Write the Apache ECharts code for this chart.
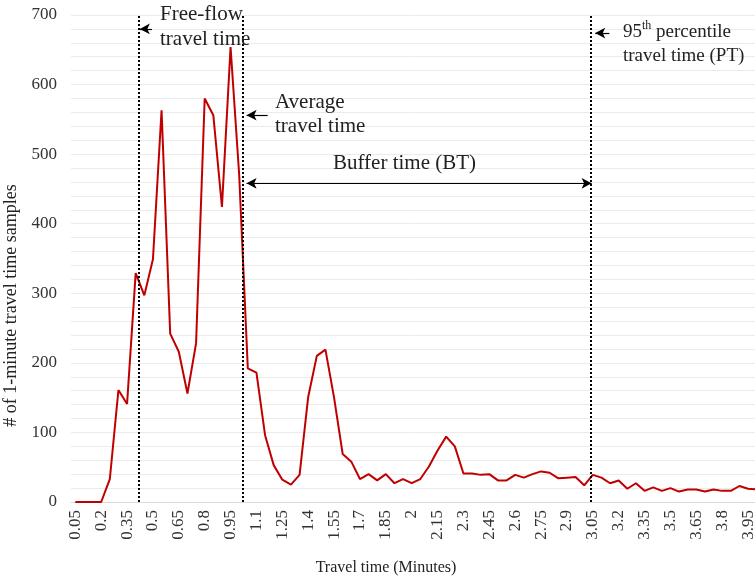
<!DOCTYPE html>
<html>
<head>
<meta charset="utf-8">
<script src="https://cdn.jsdelivr.net/npm/echarts@6/dist/echarts.min.js"></script>
<style>
  html, body { margin: 0; padding: 0; background: #ffffff; }
  #chart { width: 755px; height: 578px; }
</style>
</head>
<body>
<div id="chart"></div>
<script>
// travel time categories (minutes)
var categories = ['0.05','0.1','0.15','0.2','0.25','0.3','0.35','0.4','0.45','0.5',
  '0.55','0.6','0.65','0.7','0.75','0.8','0.85','0.9','0.95','1',
  '1.05','1.1','1.15','1.2','1.25','1.3','1.35','1.4','1.45','1.5',
  '1.55','1.6','1.65','1.7','1.75','1.8','1.85','1.9','1.95','2',
  '2.05','2.1','2.15','2.2','2.25','2.3','2.35','2.4','2.45','2.5',
  '2.55','2.6','2.65','2.7','2.75','2.8','2.85','2.9','2.95','3',
  '3.05','3.1','3.15','3.2','3.25','3.3','3.35','3.4','3.45','3.5',
  '3.55','3.6','3.65','3.7','3.75','3.8','3.85','3.9','3.95','4'];

// # of 1-minute samples per category
var samples = [0, 0, 0, 0, 33, 161, 141, 329, 297, 349,
  563, 242, 216, 156, 228, 580, 556, 424, 654, 470,
  192, 186, 96, 53, 32, 25, 39, 151, 210, 219,
  150, 69, 58, 33, 40, 31, 40, 27, 33, 27,
  33, 51, 74, 94, 80, 41, 41, 39, 40, 31,
  31, 39, 35, 40, 44, 42, 34, 35, 36, 24,
  39, 35, 27, 31, 19, 27, 16, 21, 16, 20,
  15, 18, 18, 15, 18, 16, 16, 23, 19, 18];

var yTicks = [0, 100, 200, 300, 400, 500, 600, 700];

// reference lines (minutes): free-flow, average, 95th percentile
var freeFlow = 0.418;
var average = 1.02;
var pct95 = 3.037;

var serif = 'Liberation Serif';
var myChart = echarts.init(document.getElementById('chart'));

var arrowLine = { color: '#000', width: 1.2, type: 'solid' };

myChart.setOption({
    animation: false,
    grid: { left: 71, top: 15, bottom: 76, width: 690, containLabel: false, outerBoundsMode: 'none' },
    xAxis: [{
        type: 'category',
        data: categories,
        boundaryGap: true,
        axisLine: { lineStyle: { color: '#d9d9d9', width: 1 } },
        axisTick: { show: false },
        axisLabel: {
            interval: 2,
            rotate: 90,
            fontFamily: serif,
            fontSize: 17,
            color: '#333',
            margin: 8
        },
        name: 'Travel time (Minutes)',
        nameLocation: 'middle',
        nameGap: 58,
        nameTextStyle: { fontFamily: serif, fontSize: 16, color: '#222', padding: [0, 60, 0, 0] }
    }, {
        // hidden value axis aligned with the categories, for annotations
        type: 'value',
        show: false,
        position: 'top',
        min: 0.025,
        max: 4.025
    }],
    yAxis: {
        type: 'value',
        min: 0,
        max: 700,
        interval: 20,
        axisLine: { show: false },
        axisTick: { show: false },
        splitLine: { lineStyle: { color: '#ebebeb', width: 1 } },
        axisLabel: {
            fontFamily: serif,
            fontSize: 17,
            color: '#333',
            margin: 14,
            formatter: function (v) { return yTicks.indexOf(v) >= 0 ? v : ''; }
        },
        name: '# of 1-minute travel time samples',
        nameLocation: 'middle',
        nameGap: 48,
        nameTextStyle: { fontFamily: serif, fontSize: 18, color: '#222', padding: [0, 94, 0, 0] }
    },
    series: [{
        name: 'samples',
        type: 'line',
        data: samples,
        showSymbol: false,
        symbol: 'none',
        lineStyle: { color: '#c00000', width: 2 }
    }, {
        name: 'annotations',
        type: 'line',
        xAxisIndex: 1,
        data: [],
        markLine: {
            silent: true,
            animation: false,
            label: { show: false },
            symbol: ['none', 'none'],
            lineStyle: { color: '#000', width: 2, type: [2, 2] },
            data: [
                { xAxis: freeFlow },
                { xAxis: average },
                { xAxis: pct95 },
                [{ coord: [0.494, 680], symbol: 'none', lineStyle: arrowLine },
                 { coord: [0.424, 680], symbol: 'arrow', symbolSize: [8, 10] }],
                [{ coord: [1.165, 556], symbol: 'none', lineStyle: arrowLine },
                 { coord: [1.043, 556], symbol: 'arrow', symbolSize: [8, 10] }],
                [{ coord: [1.043, 458], symbol: 'arrow', symbolSize: [8, 10], lineStyle: arrowLine },
                 { coord: [3.043, 458], symbol: 'arrow', symbolSize: [8, 10] }],
                [{ coord: [3.146, 674], symbol: 'none', lineStyle: arrowLine },
                 { coord: [3.064, 674], symbol: 'arrow', symbolSize: [8, 10] }]
            ]
        }
    }],
    graphic: [
        { type: 'text', left: 160, top: 2, z: 100,
          style: { text: 'Free-flow\ntravel time', font: '21px ' + serif, fill: '#222', lineHeight: 25 } },
        { type: 'text', left: 275, top: 90, z: 100,
          style: { text: 'Average\ntravel time', font: '21px ' + serif, fill: '#222', lineHeight: 24 } },
        { type: 'text', left: 333, top: 153, z: 100,
          style: { text: 'Buffer time (BT)', font: '21px ' + serif, fill: '#222' } },
        { type: 'text', left: 623, top: 20, z: 100,
          style: {
              text: '{n|95}{s|th}{n| percentile}\n{n|travel time (PT)}',
              fill: '#222',
              rich: {
                  n: { fontFamily: serif, fontSize: 19, lineHeight: 24, fill: '#222' },
                  s: { fontFamily: serif, fontSize: 12, lineHeight: 24, verticalAlign: 'top', padding: [0, 0, 8, 0], fill: '#222' }
              }
          } }
    ]
});
</script>
</body>
</html>
